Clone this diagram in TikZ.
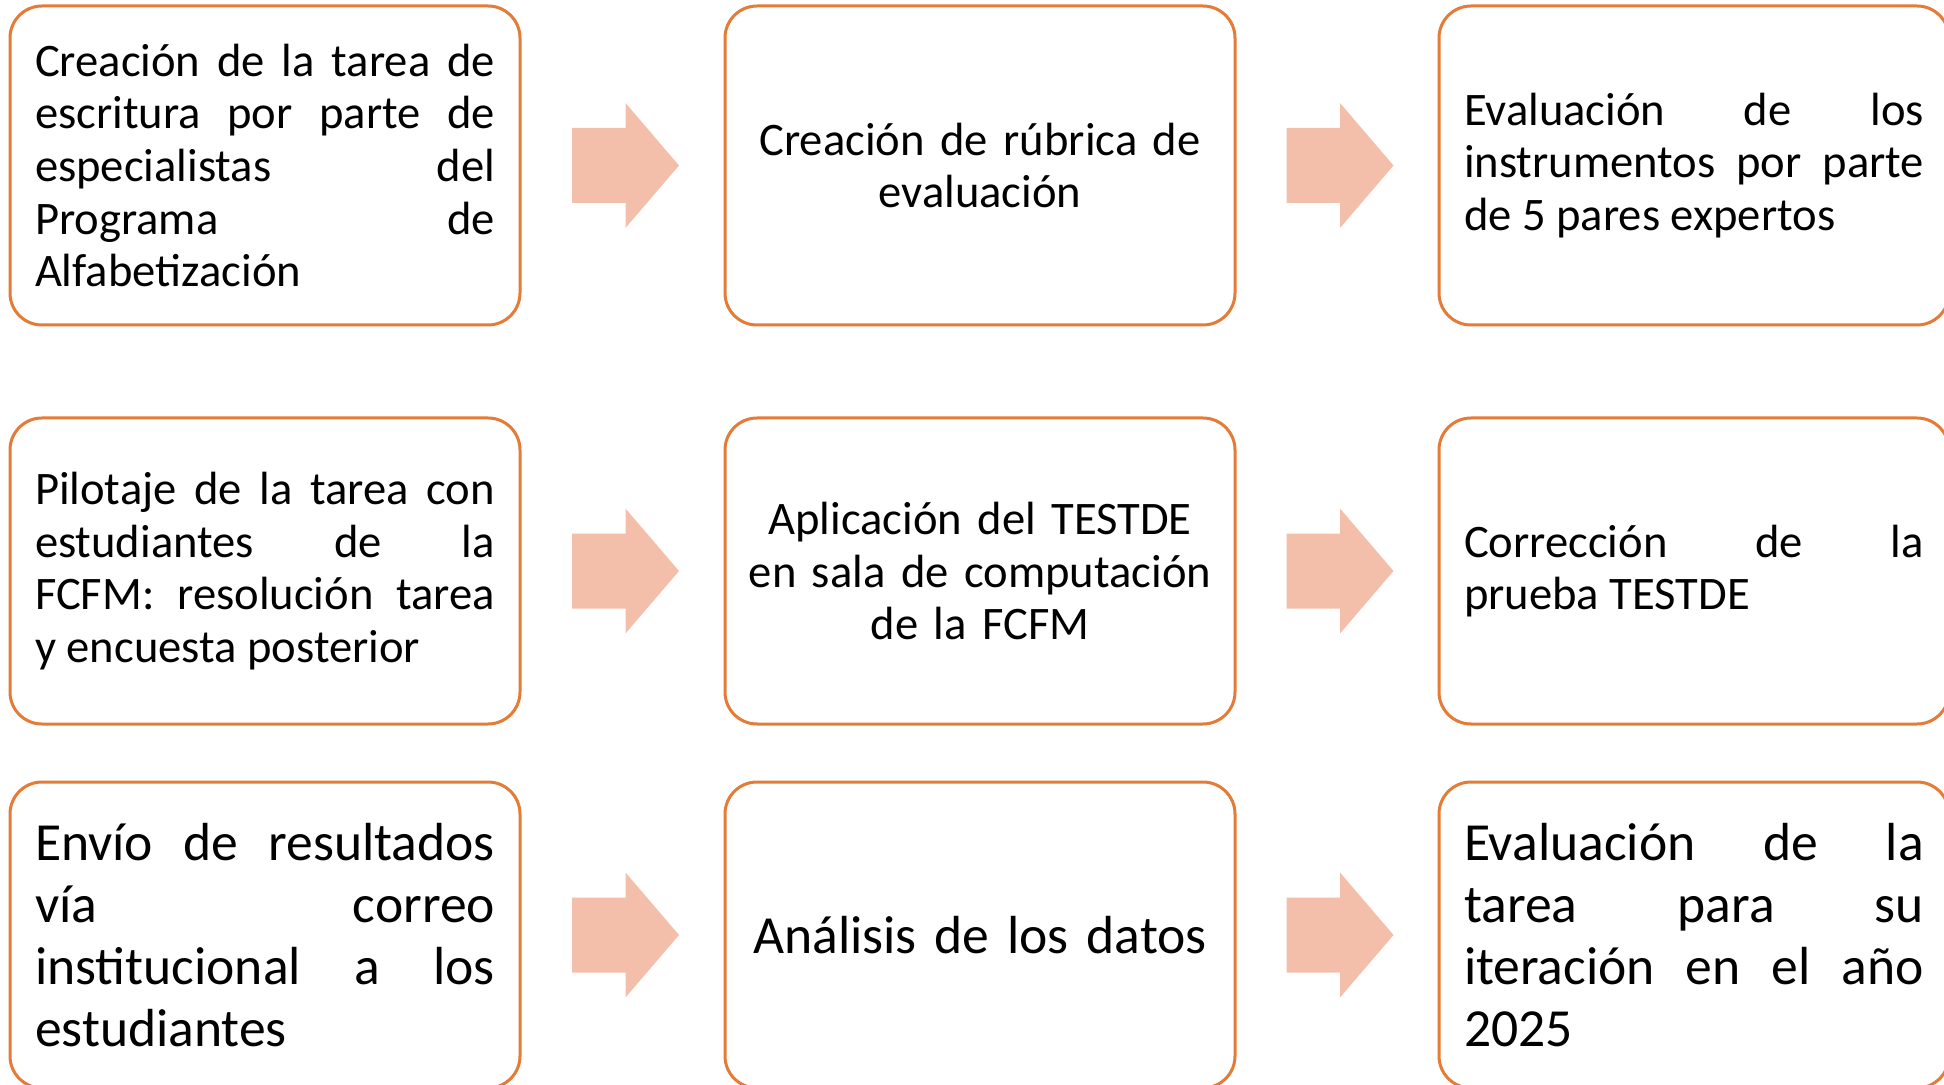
\documentclass[tikz,border=0pt]{standalone}
\usepackage{fontspec}
\setmainfont{Carlito}
\usetikzlibrary{calc}
\definecolor{boxline}{HTML}{E47B36}
\definecolor{arrowfill}{HTML}{F4BFAA}
\newcommand{\jline}[1]{{\spaceskip=0pt\xspaceskip=0pt\makebox[230pt][s]{#1}}\\}
\tikzset{
  stepbox/.style={draw=boxline, line width=1.5pt, rounded corners=16pt,
    minimum width=255pt, text width=230pt, inner xsep=12.5pt, inner ysep=0pt,
    anchor=center, align=flush left},
  midbox/.style={stepbox, text width=244pt, inner xsep=5.5pt, align=center},
  rowA/.style={minimum height=159.5pt},
  rowB/.style={minimum height=153pt},
  smalltext/.style={font=\fontsize{23.3pt}{26.35pt}\selectfont},
  bigtext/.style={font=\fontsize{26.8pt}{31pt}\selectfont},
  barrow/.pic={\fill[arrowfill] (-53.5,-37.5) -- (0,-37.5) -- (0,-62.5) -- (53.5,0) -- (0,62.5) -- (0,37.5) -- (-53.5,37.5) -- cycle;}
}
\begin{document}
\begin{tikzpicture}[x=0.5pt,y=-0.5pt]
\useasboundingbox (0,0) rectangle (1944,1085);
\clip (0,0) rectangle (1944,1085);
% row 1
\node[stepbox,rowA,smalltext] (A) at (265,165.5) {\jline{Creación de la tarea de}\jline{escritura por parte de}\jline{especialistas del}\jline{Programa de}Alfabetización};
\node[midbox,rowA,smalltext] (B) at (980,165.5) {Creación de rúbrica de\\evaluación};
\node[stepbox,rowA,smalltext] (C) at (1694,165.5) {\jline{Evaluación de los}\jline{instrumentos por parte}de 5 pares expertos};
% row 2
\node[stepbox,rowB,smalltext] (D) at (265,571) {\jline{Pilotaje de la tarea con}\jline{estudiantes de la}\jline{FCFM: resolución tarea}y encuesta posterior};
\node[midbox,rowB,smalltext] (E) at (980,571) {Aplicación del TESTDE\\en sala de computación\\de la FCFM};
\node[stepbox,rowB,smalltext] (F) at (1694,571) {\jline{Corrección de la}prueba TESTDE};
% row 3
\node[stepbox,rowB,bigtext] (G) at (265,935) {\jline{Envío de resultados}\jline{vía correo}\jline{institucional a los}estudiantes};
\node[midbox,rowB,bigtext] (H) at (980,935) {Análisis de los datos};
\node[stepbox,rowB,bigtext] (I) at (1694,935) {\jline{Evaluación de la}\jline{tarea para su}\jline{iteración en el año}2025};
% arrows
\pic at ($(A.east)!0.5!(B.west)+(3,0)$) {barrow};
\pic at ($(B.east)!0.5!(C.west)+(3,0)$) {barrow};
\pic at ($(D.east)!0.5!(E.west)+(3,0)$) {barrow};
\pic at ($(E.east)!0.5!(F.west)+(3,0)$) {barrow};
\pic at ($(G.east)!0.5!(H.west)+(3,0)$) {barrow};
\pic at ($(H.east)!0.5!(I.west)+(3,0)$) {barrow};
\end{tikzpicture}
\end{document}
